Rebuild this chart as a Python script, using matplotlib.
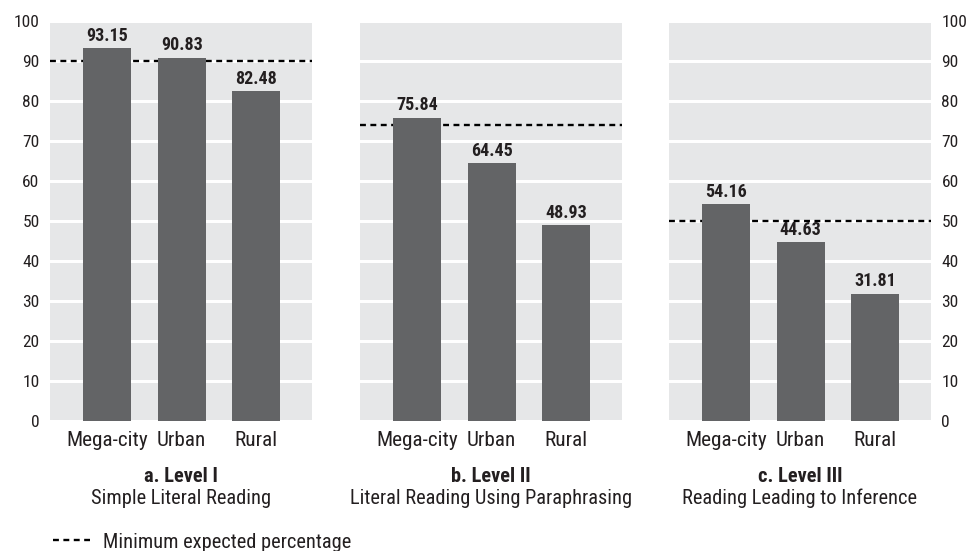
import matplotlib
matplotlib.use('Agg')
import matplotlib.pyplot as plt
from matplotlib.lines import Line2D
from matplotlib import font_manager
from matplotlib.font_manager import FontProperties
from matplotlib.textpath import TextPath

# pick a condensed family that has real regular and bold files
fonts = font_manager.fontManager.ttflist
wanted = ['Roboto Condensed', 'Liberation Sans Narrow', 'Barlow Semi Condensed',
          'Asap Condensed', 'Barlow Condensed']
family = 'DejaVu Sans'
for name in wanted:
    faces = [f for f in fonts if f.name == name and f.style == 'normal'
             and '[' not in f.fname]
    weights = {int(f.weight) for f in faces if str(f.weight).isdigit()}
    if 400 in weights and 700 in weights:
        family = name
        break

plt.rcParams['font.family'] = [family, 'DejaVu Sans']

categories = ['Mega-city', 'Urban', 'Rural']
level1 = [93.15, 90.83, 82.48]
level2 = [75.84, 64.45, 48.93]
level3 = [54.16, 44.63, 31.81]
thresholds = [90, 74, 50]
panel_titles = ['a. Level I', 'b. Level II', 'c. Level III']
panel_subtitles = ['Simple Literal Reading',
                   'Literal Reading Using Paraphrasing',
                   'Reading Leading to Inference']
legend_label = 'Minimum expected percentage'

bg = '#e6e7e8'
bar_color = '#636466'
ink = '#231f20'
W, H = 969, 551


def fit(text, px, weight='normal'):
    # font size (pt at 100 dpi) that makes text about px pixels wide
    w = TextPath((0, 0), text, size=10,
                 prop=FontProperties(family=family, weight=weight)).get_extents().width
    return min(max(10 * px / (w * 100 / 72), 9), 16)


fs_cat = fit('Mega-city', 80)
fs_tick = 12.5 if family != 'DejaVu Sans' else 11
fs_val = 13 if family != 'DejaVu Sans' else 11.5
fs_title = fit('a. Level I', 72, 'bold')
fs_sub = fit('Simple Literal Reading', 178)
fs_leg = fit(legend_label, 245)

fig = plt.figure(figsize=(W / 100, H / 100), dpi=100)
lefts = [50, 360, 669]
series = [level1, level2, level3]

for i, (vals, thr) in enumerate(zip(series, thresholds)):
    ax = fig.add_axes([lefts[i] / W, 130 / H, 262 / W, 400 / H])
    ax.set_facecolor(bg)
    for s in ax.spines.values():
        s.set_visible(False)
    ax.set_ylim(0, 100)
    ax.set_xlim(-0.77, 2.75)
    ax.set_yticks(range(0, 101, 10))
    ax.yaxis.grid(True, color='white', linewidth=2.2)
    ax.set_axisbelow(True)
    x = range(len(categories))
    ax.axhline(thr, color='black', linewidth=1.7, dashes=(2.5, 1.9), zorder=1.5)
    ax.bar(x, vals, width=0.645, color=bar_color, zorder=2)
    for xi, v in zip(x, vals):
        ax.annotate(f'{v:.2f}', (xi, v), xytext=(0, 2.5), textcoords='offset points',
                    ha='center', va='bottom', fontsize=fs_val, fontweight='bold',
                    color=ink)
    ax.set_xticks(list(x))
    ax.set_xticklabels(categories, fontsize=fs_cat, color=ink)
    ax.tick_params(axis='x', length=0, pad=7)
    ax.tick_params(axis='y', length=0, pad=7.5, labelsize=fs_tick, colors=ink)
    if i == 0:
        ax.yaxis.tick_left()
    elif i == 2:
        ax.yaxis.tick_right()
        ax.tick_params(axis='y', labelright=True, labelleft=False)
    else:
        ax.tick_params(axis='y', labelleft=False, labelright=False)
    cx = (lefts[i] + 131) / W
    fig.text(cx, 1 - 477 / H, panel_titles[i], ha='center', va='center',
             fontsize=fs_title, fontweight='bold', color=ink)
    fig.text(cx, 1 - 498 / H, panel_subtitles[i], ha='center', va='center',
             fontsize=fs_sub, color=ink)

leg_px = fs_leg * 100 / 72
handle = Line2D([], [], color='black', linewidth=1.7, dashes=(2.5, 1.9))
fig.legend([handle], [legend_label], loc='center left',
           bbox_to_anchor=(53 / W, 1 - 542 / H), frameon=False,
           borderpad=0, borderaxespad=0,
           handlelength=37 / leg_px, handletextpad=13 / leg_px, fontsize=fs_leg,
           labelcolor=ink)

fig.savefig('out.png', dpi=100)
